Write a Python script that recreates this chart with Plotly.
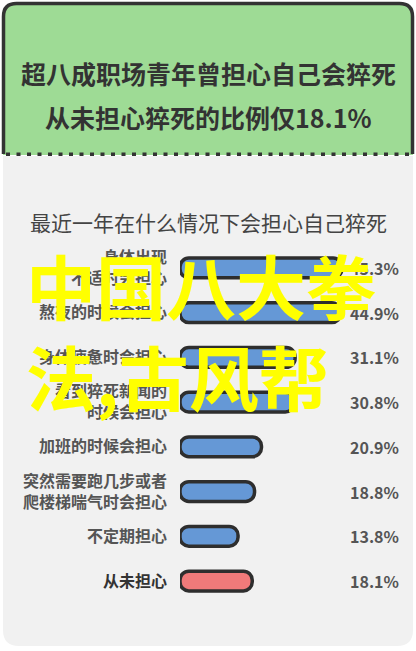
import plotly.graph_objects as go

# 数据
categories = [
    "身体出现<br>不适时会担心",
    "熬夜的时候会担心",
    "身体疲惫时会担心",
    "看到猝死新闻的<br>时候会担心",
    "加班的时候会担心",
    "突然需要跑几步或者<br>爬楼梯喘气时会担心",
    "不定期担心",
    "<span style='color:#333333'>从未担心</span>",
]
values = [45.3, 44.9, 31.1, 30.8, 20.9, 18.8, 13.8, 18.1]
value_labels = ["45.3%", "44.9%", "31.1%", "30.8%", "20.9%", "18.8%", "13.8%", "18.1%"]
bar_colors = ["#6598d6"] * 7 + ["#f07a7a"]

title_lines = ["超八成职场青年曾担心自己会猝死", "从未担心猝死的比例仅18.1%"]
subtitle = "最近一年在什么情况下会担心自己猝死"
watermark = "中国八大拳<br>法,古风帮"

W, H = 416, 651
FONT = "Noto Sans CJK SC"
BAR_PAD = 3.8  # bars start a little left of zero (rounded cap), end at the value


def px(x):
    return x / W


def py(y):
    return 1 - y / H


def rounded_top(x0, y0, x1, y1, r, close=True):
    p = (f"M {px(x0)},{py(y1)} L {px(x0)},{py(y0 + r)} "
         f"Q {px(x0)},{py(y0)} {px(x0 + r)},{py(y0)} "
         f"L {px(x1 - r)},{py(y0)} Q {px(x1)},{py(y0)} {px(x1)},{py(y0 + r)} "
         f"L {px(x1)},{py(y1)}")
    return p + (" Z" if close else "")


def rounded_bottom(x0, y0, x1, y1, r):
    return (f"M {px(x0)},{py(y0)} L {px(x1)},{py(y0)} L {px(x1)},{py(y1 - r)} "
            f"Q {px(x1)},{py(y1)} {px(x1 - r)},{py(y1)} "
            f"L {px(x0 + r)},{py(y1)} Q {px(x0)},{py(y1)} {px(x0)},{py(y1 - r)} Z")


fig = go.Figure()
fig.add_trace(go.Bar(
    x=[v + BAR_PAD for v in values], y=categories, orientation="h", base=-BAR_PAD,
    width=0.44,
    marker=dict(color=bar_colors, line=dict(color="#2e2e2e", width=3.5)),
    hoverinfo="skip",
))

shapes = [
    dict(type="path", xref="paper", yref="paper", layer="below",
         path=rounded_top(3, 3, 413, 155, 14), fillcolor="#9edb95", line=dict(width=0)),
    dict(type="path", xref="paper", yref="paper", layer="below",
         path=rounded_top(3.5, 3.5, 412.5, 154, 13, close=False),
         line=dict(color="#333333", width=3.5)),
    dict(type="line", xref="paper", yref="paper", layer="below",
         x0=px(6), x1=px(412), y0=py(154.5), y1=py(154.5),
         line=dict(color="#333333", width=4, dash="4px,6.5px")),
    dict(type="path", xref="paper", yref="paper", layer="below",
         path=rounded_bottom(3, 156, 413, 646, 16), fillcolor="#f1f1f1", line=dict(width=0)),
]

annotations = [
    dict(text=f"<b>{title_lines[0]}</b>", x=0.5, y=py(53), xref="paper", yref="paper",
         showarrow=False, font=dict(size=25, color="#333333", family=FONT)),
    dict(text=f"<b>{title_lines[1]}</b>", x=0.5, y=py(97), xref="paper", yref="paper",
         showarrow=False, font=dict(size=25, color="#333333", family=FONT)),
    dict(text=subtitle, x=0.5, y=py(205), xref="paper", yref="paper",
         showarrow=False, font=dict(size=21, color="#444444", family=FONT)),
]
for c, lab in zip(categories, value_labels):
    annotations.append(dict(text=f"<b>{lab}</b>", x=px(401), xanchor="right", xref="paper",
                            y=c, yref="y", showarrow=False,
                            font=dict(size=16, color="#555555", family=FONT)))
annotations.append(dict(text=watermark, x=px(24), xanchor="left", y=py(330), yanchor="middle",
                        xref="paper", yref="paper", align="left", showarrow=False,
                        font=dict(size=70, color="#ffff00", family=FONT, weight="bold")))

fig.update_layout(
    width=W, height=H,
    margin=dict(l=0, r=0, t=0, b=0),
    paper_bgcolor="white", plot_bgcolor="rgba(0,0,0,0)",
    showlegend=False,
    barcornerradius="45%",
    font=dict(family=FONT),
    xaxis=dict(domain=[px(180), px(400)], range=[-BAR_PAD, 62.9], visible=False, fixedrange=True),
    yaxis=dict(domain=[py(603.4), py(245.6)], autorange="reversed", showgrid=False,
               zeroline=False, showline=False, ticks="", ticklabelstandoff=12,
               tickfont=dict(size=16, color="#555555", family=FONT, weight="bold"),
               fixedrange=True),
    shapes=shapes,
    annotations=annotations,
    hovermode=False,
)

fig.write_html("out.html", config={"displayModeBar": False},
               post_script="document.body.style.margin='0';")
